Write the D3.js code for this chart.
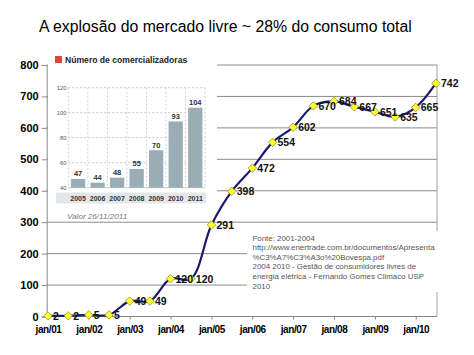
<!DOCTYPE html>
<html><head><meta charset="utf-8">
<script src="https://cdn.jsdelivr.net/npm/d3@7"></script>
<style>body{margin:0;background:#fff}svg{display:block}</style>
</head><body><svg id="c" width="474" height="355"></svg>
<script>
// ---- data ----
const periods = ["2001-01","2001-07","2002-01","2002-07","2003-01","2003-07","2004-01","2004-07","2005-01","2005-07","2006-01","2006-07","2007-01","2007-07","2008-01","2008-07","2009-01","2009-07","2010-01","2010-07"];
const values = [2,2,5,5,49,49,120,120,291,398,472,554,602,670,684,667,651,635,665,742];
const yTicks = [0,100,200,300,400,500,600,700,800];
const xTickDates = ["2001-01","2002-01","2003-01","2004-01","2005-01","2006-01","2007-01","2008-01","2009-01","2010-01"];
const xTickLabels = ["jan/01","jan/02","jan/03","jan/04","jan/05","jan/06","jan/07","jan/08","jan/09","jan/10"];
const insetYears = ["2005","2006","2007","2008","2009","2010","2011"];
const insetCounts = [47,44,48,55,70,93,104];
const insetTicks = [40,60,80,100,120];
const title = "A explosão do mercado livre ~ 28% do consumo total";
const insetTitle = "Número de comercializadoras";
const insetNote = "Valor 26/11/2011";
const sourceLines = ["Fonte: 2001-2004","http://www.enertrade.com.br/documentos/Apresenta","%C3%A7%C3%A3o%20Bovespa.pdf","2004 2010 - Gestão de consumidores livres de","energia elétrica - Fernando Gomes Climaco USP","2010"];

const parse = d3.timeParse("%Y-%m");
const svg = d3.select("#c");
svg.append("rect").attr("width",474).attr("height",355).attr("fill","#fff");

// title
svg.append("text").attr("x",39).attr("y",31.5).attr("font-family","Arial, 'Liberation Sans', sans-serif")
  .attr("font-size",15.8).attr("fill","#000").text(title);

const L = 46.7, R = 437, T = 65, B = 316.5;
const x = d3.scaleTime().domain([parse("2001-01"), parse("2010-07")]).range([48, 436]);
const y = d3.scaleLinear().domain([0,800]).range([B, T]);

// gridlines
svg.append("g").selectAll("line").data(yTicks.filter(d=>d>0)).join("line")
  .attr("x1",L).attr("x2",R).attr("y1",d=>y(d)).attr("y2",d=>y(d))
  .attr("stroke","#8c8c8c").attr("stroke-width",1);
// right border
svg.append("line").attr("x1",R).attr("x2",R).attr("y1",T).attr("y2",B).attr("stroke","#a0a0a0");

// y axis
const yAxis = d3.axisLeft(y).tickValues(yTicks).tickSize(5).tickPadding(3);
const gy = svg.append("g").attr("transform",`translate(${L},0)`).call(yAxis);
gy.select(".domain").attr("stroke","#888");
gy.selectAll(".tick line").attr("stroke","#888");
gy.selectAll("text").attr("font-family","Arial, 'Liberation Sans', sans-serif").attr("font-size",11).attr("font-weight","bold").attr("fill","#000");

// x axis
const xAxis = d3.axisBottom(x).tickValues(xTickDates.map(parse)).tickFormat((d,i)=>xTickLabels[i]).tickSize(3).tickPadding(6).tickSizeOuter(0);
const gx = svg.append("g").attr("transform",`translate(0,${B})`).call(xAxis);
gx.select(".domain").attr("stroke","#888").attr("d",`M${L},0H${R}`);
gx.selectAll(".tick line").attr("stroke","#888");
gx.selectAll("text").attr("font-family","Arial, 'Liberation Sans', sans-serif").attr("font-size",10).attr("font-weight","bold").attr("fill","#000").attr("letter-spacing","-0.4");

// source box
svg.append("rect").attr("x",247).attr("y",231).attr("width",193).attr("height",61).attr("fill","#fff");
svg.append("g").selectAll("text").data(sourceLines).join("text")
  .attr("x",252.5).attr("y",(d,i)=>240.5+i*9.6)
  .attr("font-family","Arial, 'Liberation Sans', sans-serif").attr("font-size",7.9).attr("fill","#555").text(d=>d);

// inset
const ins = svg.append("g");
ins.append("rect").attr("x",48).attr("y",50).attr("width",169).attr("height",170).attr("fill","#fff");
ins.append("rect").attr("x",55).attr("y",56).attr("width",7).attr("height",7).attr("fill","#d9463b");
ins.append("text").attr("x",65).attr("y",62.8).attr("font-family","Arial, 'Liberation Sans', sans-serif")
  .attr("font-size",8.6).attr("font-weight","bold").attr("fill","#222").text(insetTitle);
const bx = d3.scaleBand().domain(insetYears).range([68.3,205]).paddingInner(0.27).paddingOuter(0.135);
const by = d3.scaleLinear().domain([40,120]).range([187.7,87.7]);
// grey band for year labels
ins.append("rect").attr("x",56).attr("y",192.5).attr("width",150).attr("height",11).attr("fill","#e4e7e9");
// dashed grid
ins.append("g").selectAll("line").data(insetTicks.filter(d=>d>40)).join("line")
  .attr("x1",68.3).attr("x2",205).attr("y1",d=>by(d)).attr("y2",d=>by(d))
  .attr("stroke","#c8c8c8").attr("stroke-dasharray","2,2");
const gap = (bx.step()-bx.bandwidth())/2;
const bounds = insetYears.map(d=>bx(d)-gap).concat([bx(insetYears[insetYears.length-1])+bx.bandwidth()+gap]);
ins.append("g").selectAll("line").data(bounds).join("line")
  .attr("x1",d=>d).attr("x2",d=>d).attr("y1",by(120)).attr("y2",by(40))
  .attr("stroke","#d0d0d0").attr("stroke-dasharray","2,2");
ins.append("line").attr("x1",68.3).attr("x2",205).attr("y1",by(40)).attr("y2",by(40)).attr("stroke","#c8c8c8");
// y labels
ins.append("g").selectAll("text").data(insetTicks).join("text")
  .attr("x",66.5).attr("y",d=>by(d)+2).attr("text-anchor","end")
  .attr("font-family","Arial, 'Liberation Sans', sans-serif").attr("font-size",5.8).attr("fill","#555").text(d=>d);
// bars
ins.append("g").selectAll("rect").data(insetCounts).join("rect")
  .attr("x",(d,i)=>bx(insetYears[i])).attr("width",bx.bandwidth())
  .attr("y",d=>by(d)).attr("height",d=>by(40)-by(d)).attr("fill","#9aadb4");
ins.append("g").selectAll("text").data(insetCounts).join("text")
  .attr("x",(d,i)=>bx(insetYears[i])+bx.bandwidth()/2).attr("y",d=>by(d)-2.5).attr("text-anchor","middle")
  .attr("font-family","Arial, 'Liberation Sans', sans-serif").attr("font-size",7.5).attr("font-weight","bold").attr("fill","#333").text(d=>d);
ins.append("g").selectAll("text").data(insetYears).join("text")
  .attr("x",d=>bx(d)+bx.bandwidth()/2).attr("y",200.6).attr("text-anchor","middle")
  .attr("font-family","Arial, 'Liberation Sans', sans-serif").attr("font-size",7).attr("font-weight","bold").attr("fill","#333").text(d=>d);
ins.append("text").attr("x",67).attr("y",219).attr("font-family","Arial, 'Liberation Sans', sans-serif")
  .attr("font-size",8.1).attr("font-style","italic").attr("fill","#777").text(insetNote);

// line
const pts = periods.map((p,i)=>({d:parse(p), v:values[i]}));
svg.append("path").datum(pts)
  .attr("d", d3.line().x(d=>x(d.d)).y(d=>y(d.v)).curve(d3.curveCatmullRom.alpha(0.5)))
  .attr("fill","none").attr("stroke","#1b1b6e").attr("stroke-width",2.2);
// markers
svg.append("g").selectAll("path").data(pts).join("path")
  .attr("d", d3.symbol().type(d3.symbolSquare).size(36))
  .attr("transform",d=>`translate(${x(d.d)},${y(d.v)}) rotate(45)`)
  .attr("fill","#ffff2e").attr("stroke","#8a8a20").attr("stroke-width",0.7);
// labels
svg.append("g").selectAll("text").data(pts).join("text")
  .attr("x",d=>x(d.d)+5).attr("y",d=>y(d.v)+4)
  .attr("font-family","Arial, 'Liberation Sans', sans-serif").attr("font-size",10.5).attr("font-weight","bold")
  .attr("fill","#111").text(d=>d.v);
</script></body></html>
